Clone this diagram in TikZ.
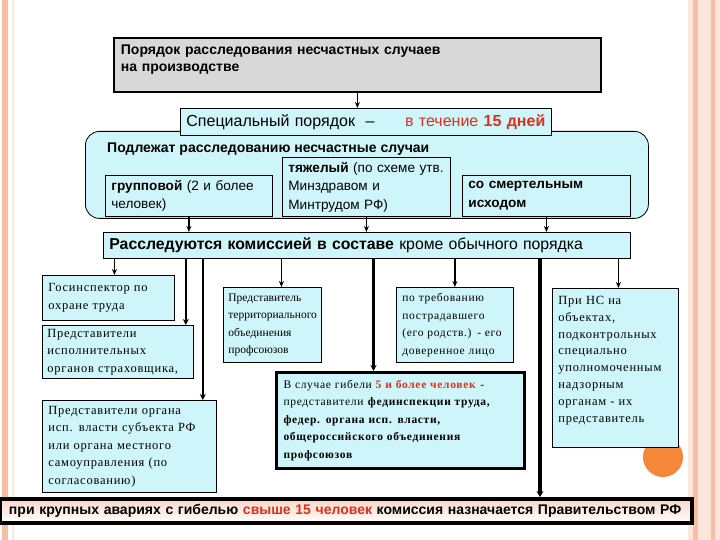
\documentclass[tikz,border=0pt]{standalone}
\usepackage{fontspec}
\setmainfont{Liberation Serif}
\setsansfont{Liberation Sans}
\newfontfamily\serifwide[LetterSpace=6]{Liberation Serif}
\usepackage{xcolor}
\usepackage{tikz}
\usetikzlibrary{arrows.meta, positioning}
\definecolor{boxcyan}{RGB}{206,246,250}
\definecolor{boxgray}{RGB}{216,216,216}
\definecolor{txtred}{RGB}{222,48,24}
\definecolor{peach}{RGB}{247,190,165}
\definecolor{peachlt}{RGB}{252,229,218}
\definecolor{barpink}{RGB}{250,214,200}
\definecolor{dotorange}{RGB}{246,134,58}
\tikzset{
  sansbox/.style={rectangle, draw=black, fill=boxcyan, line width=0.8pt,
    anchor=north west, align=left, inner xsep=6pt,
    font=\sffamily\fontsize{13.6}{18.5}\selectfont},
  serifbox/.style={rectangle, draw=black, fill=boxcyan, line width=0.8pt,
    anchor=north west, align=left, inner xsep=6pt,
    font=\serifwide\fontsize{12.5}{17.5}\selectfont},
  arrow/.style={-{Stealth[length=6pt,width=5pt]}, line width=1.3pt, color=black},
  boldarrow/.style={-{Stealth[length=6pt,width=6pt]}, line width=2.2pt, color=black},
  trunkline/.style={-{Stealth[length=6pt,width=7pt]}, line width=3.2pt, color=black}
}

\begin{document}
\begin{tikzpicture}[x=1pt, y=-1pt,
  headbox/.style={rectangle, draw=black, fill=boxgray, line width=1.8pt, anchor=north west,
    align=left, inner xsep=7pt, inner ysep=5pt, font=\sffamily\bfseries\fontsize{14}{17}\selectfont},
  framebox/.style={rectangle, draw=black, fill=boxcyan, line width=0.8pt, rounded corners=14pt, anchor=north west}]

  \useasboundingbox (0,0) rectangle (720,540);
  \fill[white] (0,0) rectangle (720,540);

  % slide decoration
  \fill[peach] (2,0) rectangle (8,540);
  \draw[peachlt, line width=1.5pt] (13,0) -- (13,540);
  \fill[peachlt] (688,0) rectangle (720,540);
  \fill[peach] (693,0) rectangle (698,540);
  \fill[peach] (711,0) rectangle (715,540);
  \fill[dotorange] (663,457) circle (20);

  \node[headbox, text width=473pt, text height=12pt, text depth=32pt] (head) at (113,37)
    {Порядок расследования несчастных случаев\\на производстве};

  \node[framebox, minimum width=563pt, minimum height=87pt] (cases) at (85,131) {};
  \node[anchor=west, font=\sffamily\bfseries\fontsize{14}{15}\selectfont, inner sep=0pt] (casestitle) at (107,149)
    {Подлежат расследованию несчастные случаи};

  \node[sansbox, text width=359pt, minimum height=27pt, inner ysep=0pt, font=\sffamily\fontsize{16}{18}\selectfont] (spec) at (180,108)
    {Специальный порядок \ –\hfill{\color{txtred}в течение \textbf{15 дней}}};

  \node[sansbox, text width=155pt, minimum height=41pt, inner ysep=2pt] (group) at (105,175)
    {\textbf{групповой} (2 и более\\человек)};
  \node[sansbox, text width=156pt, minimum height=59pt, inner ysep=2pt] (heavy) at (282,157)
    {\textbf{тяжелый} (по схеме утв.\\Минздравом и\\Минтрудом РФ)};
  \node[sansbox, text width=156pt, minimum height=41pt, inner ysep=2pt, font=\sffamily\bfseries\fontsize{13.6}{18.5}\selectfont] (fatal) at (462,175)
    {со смертельным\\исходом};

  \node[sansbox, text width=515pt, minimum height=26pt, inner ysep=0pt, font=\sffamily\fontsize{15.8}{18}\selectfont] (comm) at (103,232)
    {\textbf{Расследуются комиссией в составе} кроме обычного порядка};

  \draw[arrow] (head.south) -- (head.south |- spec.north);
  \draw[arrow] (group.south) -- (group.south |- comm.north);
  \draw[arrow] (heavy.south) -- (heavy.south |- comm.north);
  \draw[arrow] (fatal.south) -- (fatal.south |- comm.north);

  \node[serifbox, text width=120pt, minimum height=45pt, inner ysep=2pt] (insp) at (42,275)
    {Госинспектор по\\охране труда};
  \node[serifbox, text width=141pt, inner xsep=5pt, minimum height=53pt, inner ysep=1pt] (insur) at (42,325)
    {Представители\\исполнительных\\органов страховщика,};
  \node[serifbox, text width=162pt, minimum height=92pt, inner ysep=2pt] (region) at (42,400)
    {Представители органа\\исп. власти субъекта РФ\\или органа местного\\самоуправления (по\\согласованию)};
  \node[serifbox, text width=88pt, inner xsep=5pt, minimum height=75pt, inner ysep=2pt, font=\rmfamily\fontsize{11.5}{17.5}\selectfont] (union) at (223,287)
    {Представитель\\территориального\\объединения\\профсоюзов};
  \node[serifbox, text width=105pt, minimum height=75pt, inner ysep=2pt, font=\serifwide\fontsize{11.5}{17.5}\selectfont] (victim) at (396,287)
    {по требованию\\пострадавшего\\(его родств.) - его\\доверенное лицо};
  \node[serifbox, text width=234pt, minimum height=96pt, line width=3pt, inner xsep=7pt, inner ysep=2pt, font=\serifwide\fontsize{11.5}{17.5}\selectfont] (death) at (275,371)
    {В случае гибели {\color{txtred}\textbf{5 и более человек}} -\\представители \textbf{фединспекции труда,}\\\textbf{федер. органа исп. власти,}\\\textbf{общероссийского объединения}\\\textbf{профсоюзов}};
  \node[serifbox, text width=114pt, inner ysep=4pt, text height=12pt, text depth=139pt, font=\serifwide\fontsize{12.5}{16.8}\selectfont] (nsobj) at (552,288)
    {При НС на\\объектах,\\подконтрольных\\специально\\уполномоченным\\надзорным\\органам - их\\представитель};

  \node[rectangle, draw=black, line width=4pt, top color=barpink, bottom color=white, anchor=north west,
    text width=674pt, minimum height=24pt, inner xsep=9pt, inner ysep=0pt, align=left,
    font=\sffamily\bfseries\fontsize{14}{16}\selectfont] (bar) at (-2,497)
    {при крупных авариях с гибелью {\color{txtred}свыше 15 человек} комиссия назначается Правительством РФ};

  \coordinate (trunk) at (540,0);

  \draw[arrow] ([xshift=6pt]insp.north |- comm.south) -- ([xshift=6pt]insp.north);
  \draw[boldarrow] ([xshift=-8pt]insur.north east |- comm.south) -- ([xshift=-8pt]insur.north east);
  \draw[boldarrow] ([xshift=-14pt]region.north east |- comm.south) -- ([xshift=-14pt]region.north east);
  \draw[arrow] ([xshift=9pt]union.north |- comm.south) -- ([xshift=9pt]union.north);
  \draw[arrow] (victim.north |- comm.south) -- (victim.north);
  \draw[boldarrow] ([xshift=-27pt]death.north |- comm.south) -- ([xshift=-27pt]death.north);
  \draw[arrow] ([xshift=3pt]nsobj.north |- comm.south) -- ([xshift=3pt]nsobj.north);
  \draw[trunkline] (trunk |- comm.south) -- (trunk |- bar.north);

\end{tikzpicture}
\end{document}
